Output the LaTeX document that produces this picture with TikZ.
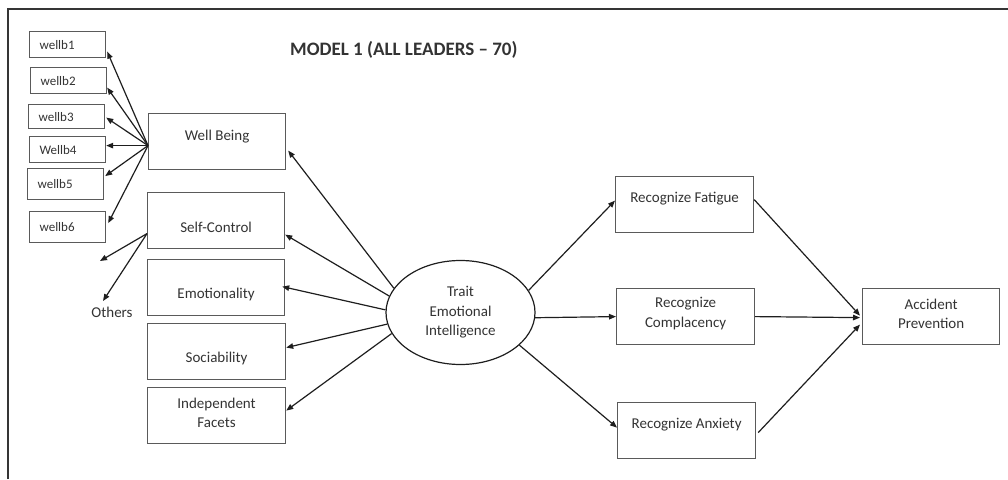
\documentclass[tikz,border=0pt]{standalone}
\usepackage{fontspec}
\setmainfont{Carlito}
\usetikzlibrary{shapes.geometric,arrows.meta,calc}
\definecolor{boxgray}{HTML}{5A5A5A}
\definecolor{txtgray}{HTML}{333333}
\definecolor{linegray}{HTML}{1E1E1E}
\begin{document}
\begin{tikzpicture}[x=1pt,y=-1pt,
  sbox/.style={draw=boxgray,line width=1.2pt,text=txtgray,text width=56pt,inner xsep=10pt,inner ysep=0pt,minimum height=26pt,align=left,anchor=north west,font=\fontsize{13}{15}\selectfont},
  bbox/.style={draw=boxgray,line width=1.2pt,minimum width=137pt,minimum height=56pt,inner sep=0pt,anchor=north west},
  lbl/.style={text=txtgray,align=center,inner sep=0pt,font=\fontsize{15}{19.5}\selectfont},
  arr/.style={draw=linegray,line width=1.2pt,-{Triangle[length=7pt,width=5.5pt]}}
]
\useasboundingbox (0,0) rectangle (1008,479);
% frame
\draw[line width=2.4pt,draw=linegray!90] (8,479) -- (8,9) -- (1008,9);
% title
\node[anchor=west,inner sep=0pt,text=txtgray,font=\bfseries\fontsize{19}{22}\selectfont] (title) at (290,50) {MODEL 1 (ALL LEADERS \textendash{} 70)};
% indicator boxes
\node[sbox] (w1) at (29,31) {wellb1};
\node[sbox] (w2) at (30,67) {wellb2};
\node[sbox,minimum height=24pt] (w3) at (28,104) {wellb3};
\node[sbox] (w4) at (29,136) {Wellb4};
\node[sbox,minimum height=31pt] (w5) at (27,168) {wellb5};
\node[sbox,minimum height=31pt] (w6) at (29,211) {wellb6};
% facet boxes
\node[bbox] (wb) at (148,113) {};
\node[lbl] (wbt) at ($(wb.center)+(0,-5)$) {Well Being};
\node[bbox] (sc) at (147,192) {};
\node[lbl] (sct) at ($(sc.center)+(0,7)$) {Self-Control};
\node[bbox] (em) at (147,259) {};
\node[lbl] (emt) at ($(em.center)+(0,7)$) {Emotionality};
\node[bbox,minimum width=138pt] (so) at (147,323) {};
\node[lbl] (sot) at ($(so.center)+(0,7)$) {Sociability};
\node[bbox,minimum width=138pt] (inf) at (147,387) {};
\node[lbl] (inft) at ($(inf.center)+(0,-3)$) {Independent\\Facets};
% others
\node[lbl] (oth) at (112,312) {Others};
\coordinate (o1) at (100,261);
\coordinate (o2) at (103,301);
% ellipse
\node[draw=linegray,line width=1.2pt,ellipse,minimum width=149pt,minimum height=104pt,inner sep=0pt] (te) at (460.5,312.5) {};
\node[lbl] (tet) at (te.center) {Trait\\Emotional\\Intelligence};
% right boxes
\node[bbox,minimum width=138pt] (rf) at (615,176) {};
\node[lbl] (rft) at ($(rf.center)+(0,-6)$) {Recognize Fatigue};
\node[bbox,minimum width=138pt] (rc) at (616,288) {};
\node[lbl] (rct) at ($(rc.center)+(0,-3)$) {Recognize\\Complacency};
\node[bbox,minimum width=138pt] (ra) at (617,402) {};
\node[lbl] (rat) at ($(ra.center)+(0,-6)$) {Recognize Anxiety};
\node[bbox] (ap) at (862,288) {};
\node[lbl] (apt) at ($(ap.center)+(0,-3)$) {Accident\\Prevention};
% arrows: well being to indicators
\coordinate (wbo) at ($(wb.west)+(0,4)$);
\draw[arr] (wbo) -- ($(w1.east)+(1,7)$);
\draw[arr] (wbo) -- ($(w2.east)+(0,7)$);
\draw[arr] (wbo) -- ($(w3.east)+(1,1)$);
\draw[arr] (wbo) -- ($(w4.east)+(0,-4)$);
\draw[arr] (wbo) -- ($(w5.east)+(1,-8)$);
\draw[arr] (wbo) -- ($(w6.east)+(2,-4)$);
% self-control to others
\coordinate (sco) at ($(sc.west)+(0,13)$);
\draw[arr] (sco) -- (o1);
\draw[arr] (sco) -- (o2);
% ellipse to facets
\draw[arr] (te.160) -- ($(wb.east)+(2,9)$);
\draw[arr] (te.167) -- ($(sc.east)+(0,14)$);
\draw[arr] (te.178) -- ($(em.east)+(-3,-1)$);
\draw[arr] (te.189) -- ($(so.east)+(0,-4)$);
\draw[arr] (te.197) -- ($(inf.east)+(0,-5)$);
% ellipse to recognize
\draw[arr] (te.18) -- ($(rf.west)+(0,-4)$);
\draw[arr] (te.-4) -- (rc.west);
\draw[arr] (te.-29) -- ($(ra.west)+(0,-3)$);
% recognize to accident
\draw[arr] ($(rf.east)+(0,-5)$) -- ($(ap.west)+(-2,-1)$);
\draw[arr] (rc.east) -- ($(ap.west)+(-2,1)$);
\draw[arr] ($(ra.east)+(2,2)$) -- ($(ap.west)+(-2,8)$);
\end{tikzpicture}
\end{document}
